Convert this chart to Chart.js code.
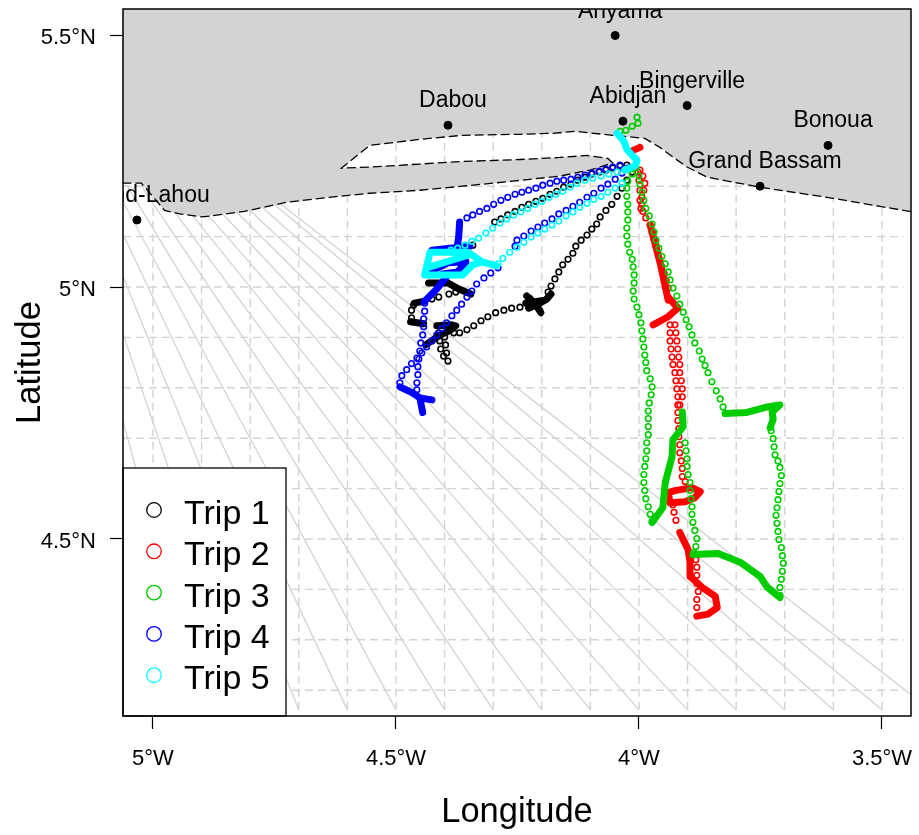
<!DOCTYPE html>
<html>
<head>
<meta charset="utf-8">
<title>Trips</title>
<script src="https://cdn.jsdelivr.net/npm/chart.js@4/dist/chart.umd.min.js"></script>
<style>
   body { margin: 0; background: #fff; }
   canvas { display: block; }
</style>
</head>
<body>
<canvas id="tripMap" width="919" height="835"></canvas>
<script>
const lonTicks = [-5, -4.5, -4, -3.5];
const lonTickLabels = ["5°W", "4.5°W", "4°W", "3.5°W"];
const latTicks = [4.5, 5, 5.5];
const latTickLabels = ["4.5°N", "5°N", "5.5°N"];

const tripNames = ["Trip 1", "Trip 2", "Trip 3", "Trip 4", "Trip 5"];
const tripColors = ["#000000", "#ff0000", "#00cd00", "#0000ff", "#00ffff"];

const townNames = ["Grand-Lahou", "Dabou", "Anyama", "Abidjan", "Bingerville", "Bonoua", "Grand Bassam"];
const townLon = [-5.033, -4.393, -4.049, -4.033, -3.901, -3.611, -3.751];
const townLat = [5.133, 5.321, 5.499, 5.329, 5.36, 5.281, 5.2];

// coast runs west to east, round the lagoon
const coastLon = [-5.063, -5.024, -4.976, -4.945, -4.898, -4.812, -4.725, -4.637, -4.554, -4.451, -4.363, -4.26, -4.163, -4.101, -4.054, -4.064, -4.107, -4.163, -4.245, -4.363, -4.451, -4.554, -4.612, -4.554, -4.451, -4.363, -4.245, -4.177, -4.132, -4.054, -3.988, -3.957, -3.926, -3.901, -3.86, -3.751, -3.6, -3.504, -3.438];
const coastLat = [5.206, 5.206, 5.152, 5.145, 5.139, 5.15, 5.168, 5.178, 5.186, 5.192, 5.2, 5.21, 5.22, 5.232, 5.246, 5.255, 5.261, 5.257, 5.253, 5.249, 5.244, 5.238, 5.236, 5.281, 5.293, 5.301, 5.303, 5.305, 5.309, 5.301, 5.295, 5.277, 5.255, 5.238, 5.218, 5.198, 5.176, 5.16, 5.149];

const gridLons = [-5, -4.9, -4.8, -4.7, -4.6, -4.5, -4.4, -4.3, -4.2, -4.1, -4, -3.9, -3.8, -3.7, -3.6, -3.5];
const gridLats = [4.2, 4.3, 4.4, 4.5, 4.6, 4.7, 4.8, 4.9, 5, 5.1, 5.2];

const fanTopLon = [-5.222, -5.194, -5.165, -5.138, -5.109, -5.08, -5.054, -5.025, -4.996, -4.969, -4.94, -4.912, -4.883, -4.856, -4.827, -4.798, -4.787];
const fanBottomLon = [-5, -4.9, -4.8, -4.7, -4.6, -4.5, -4.4, -4.3, -4.2, -4.1, -4, -3.9, -3.8, -3.7, -3.6, -3.5, -3.4];

const trip1Lon = [-4.014, -4.025, -4.035, -4.045, -4.056, -4.068, -4.08, -4.087, -4.097, -4.107, -4.119, -4.13, -4.136, -4.146, -4.157, -4.165, -4.173, -4.181, -4.187,
   -4.245, -4.262, -4.278, -4.295, -4.311, -4.325, -4.34, -4.354, -4.369, -4.381,
   -4.412, -4.41, -4.408, -4.402, -4.393, -4.396, -4.398, -4.4,
   -4.468, -4.468, -4.464, -4.426, -4.412, -4.391, -4.377, -4.342,
   -4.297, -4.284, -4.27, -4.255, -4.241, -4.227, -4.212, -4.198, -4.183, -4.169, -4.155, -4.14, -4.126, -4.111, -4.097, -4.082, -4.068, -4.054, -4.039, -4.025];
const trip1Lat = [5.228, 5.212, 5.196, 5.18, 5.164, 5.152, 5.139, 5.125, 5.115, 5.103, 5.093, 5.081, 5.067, 5.055, 5.044, 5.03, 5.016, 5.002, 4.99,
   4.96, 4.958, 4.954, 4.949, 4.941, 4.933, 4.923, 4.915, 4.909, 4.909,
   4.909, 4.893, 4.877, 4.863, 4.853, 4.869, 4.885, 4.901,
   4.939, 4.954, 4.964, 4.976, 4.98, 4.986, 4.99, 5.083,
   5.129, 5.135, 5.143, 5.15, 5.158, 5.164, 5.17, 5.176, 5.184, 5.19, 5.198, 5.204, 5.212, 5.218, 5.224, 5.228, 5.232, 5.236, 5.24, 5.242];
const trip1SlowLon = [-4.231, -4.212, -4.202, null, -4.227, -4.208, -4.19, -4.181, null, -4.233, -4.194, null, -4.225, -4.204, null,
   -4.439, -4.412, -4.387, -4.377, -4.387, -4.416, null, -4.47, -4.443, null, -4.462, -4.441, null, -4.433, -4.393, -4.371, -4.346];
const trip1SlowLat = [4.982, 4.964, 4.949, null, 4.958, 4.966, 4.976, 4.986, null, 4.968, 4.974, null, 4.978, 4.954, null,
   4.885, 4.903, 4.915, 4.923, 4.925, 4.923, null, 4.931, 4.927, null, 4.968, 4.972, null, 5.008, 5.008, 4.996, 4.986];

const trip2Lon = [-3.998, -3.992, -3.988, -3.99, -3.994, -3.994, -3.992, -3.986, -3.977, -3.973, -3.969, -3.965, -3.961, -3.957, -3.953, -3.948, -3.944, -3.94,
   -4.002, -4, -3.998, -3.998, -3.996,
   -3.936, -3.936, -3.936, -3.934, -3.932, -3.93, -3.926, -3.924, -3.922, -3.92, -3.92, -3.92, -3.92, -3.918, -3.918, -3.916, -3.916, -3.913, -3.911, -3.911, -3.905,
   -3.926, -3.924, -3.922, -3.92, -3.918, -3.916, -3.916, -3.913, -3.911, -3.911, -3.916,
   -3.93, -3.928, -3.924,
   -3.881, -3.881, -3.878, -3.881, -3.881, -3.881, -3.883];
const trip2Lat = [5.232, 5.22, 5.206, 5.192, 5.178, 5.164, 5.15, 5.137, 5.123, 5.109, 5.095, 5.081, 5.067, 5.053, 5.04, 5.026, 5.012, 4.998,
   5.228, 5.212, 5.192, 5.172, 5.156,
   4.925, 4.909, 4.893, 4.877, 4.861, 4.846, 4.83, 4.814, 4.798, 4.782, 4.766, 4.751, 4.735, 4.719, 4.703, 4.687, 4.671, 4.655, 4.64, 4.624, 4.614,
   4.925, 4.909, 4.893, 4.877, 4.861, 4.846, 4.83, 4.814, 4.798, 4.782, 4.766,
   4.568, 4.553, 4.537,
   4.364, 4.38, 4.396, 4.412, 4.428, 4.444, 4.459];
const trip2SlowLon = [-4.012, -3.998, null, -3.977, -3.957, -3.94, null, -3.971, -3.94, -3.92, -3.94, null,
   -3.926, -3.891, -3.874, -3.885, -3.905, -3.936, -3.94, -3.926, null,
   -3.916, -3.899, -3.895, -3.895, -3.87, -3.843, -3.839, -3.858, -3.881];
const trip2SlowLat = [5.271, 5.277, null, 5.123, 5.05, 4.974, null, 4.925, 4.941, 4.958, 4.98, null,
   4.596, 4.602, 4.594, 4.582, 4.574, 4.572, 4.592, 4.596, null,
   4.513, 4.479, 4.454, 4.426, 4.404, 4.386, 4.364, 4.351, 4.347];

const trip3Lon = [-4.004, -4.002, -4.014, -4.027, -4.039,
   -4.006, -4.014, -4.023, -4.025, -4.025, -4.023, -4.023, -4.023, -4.025, -4.025, -4.023, -4.019, -4.014, -4.012, -4.01, -4.01, -4.012, -4.01, -4.004, -4, -3.996, -3.994, -3.992, -3.99, -3.988, -3.986, -3.984, -3.977, -3.973, -3.975, -3.979, -3.981, -3.981, -3.981, -3.981, -3.984, -3.984, -3.986, -3.988, -3.99, -3.99, -3.988, -3.986, -3.981, -3.977, -3.973,
   -3.905, -3.903, -3.901, -3.901, -3.899, -3.895, -3.895, -3.893, -3.891, -3.891, -3.889, -3.885, -3.881, -3.883, -3.887,
   -3.71, -3.71, -3.707, -3.705, -3.703, -3.705, -3.707, -3.712, -3.714, -3.716, -3.718, -3.716, -3.714, -3.712, -3.71, -3.707, -3.71, -3.714, -3.72, -3.722, -3.724, -3.728,
   -3.827, -3.833, -3.841, -3.85, -3.858, -3.864, -3.87, -3.876, -3.885, -3.891, -3.897, -3.903, -3.909, -3.916, -3.922, -3.93, -3.936, -3.94, -3.946, -3.953, -3.959, -3.965, -3.969, -3.973, -3.979, -3.986, -3.99, -3.994, -3.998, -4];
const trip3Lat = [5.337, 5.325, 5.319, 5.311, 5.309,
   5.236, 5.224, 5.21, 5.196, 5.18, 5.164, 5.149, 5.133, 5.117, 5.101, 5.085, 5.069, 5.055, 5.04, 5.024, 5.008, 4.992, 4.976, 4.96, 4.945, 4.929, 4.913, 4.897, 4.881, 4.865, 4.85, 4.834, 4.818, 4.802, 4.786, 4.77, 4.754, 4.739, 4.723, 4.707, 4.691, 4.675, 4.659, 4.644, 4.628, 4.612, 4.596, 4.58, 4.564, 4.549, 4.535,
   4.691, 4.675, 4.659, 4.644, 4.628, 4.612, 4.596, 4.58, 4.564, 4.549, 4.533, 4.517, 4.501, 4.485, 4.473,
   4.388, 4.404, 4.42, 4.436, 4.452, 4.467, 4.483, 4.499, 4.515, 4.531, 4.547, 4.562, 4.578, 4.594, 4.61, 4.626, 4.642, 4.655, 4.667, 4.683, 4.699, 4.715,
   4.762, 4.778, 4.794, 4.812, 4.83, 4.844, 4.857, 4.873, 4.889, 4.905, 4.921, 4.935, 4.95, 4.966, 4.982, 4.998, 5.014, 5.03, 5.046, 5.061, 5.077, 5.093, 5.109, 5.125, 5.141, 5.156, 5.172, 5.188, 5.204, 5.22];
const trip3SlowLon = [-3.973, -3.951, -3.946, -3.932, -3.93, -3.909, -3.911, null,
   -3.889, -3.837, -3.792, -3.751, -3.736, -3.71, null,
   -3.823, -3.778, -3.736, -3.71, -3.726, -3.724, -3.73];
const trip3SlowLat = [4.533, 4.562, 4.612, 4.663, 4.697, 4.723, 4.752, null,
   4.469, 4.471, 4.454, 4.426, 4.404, 4.384, null,
   4.749, 4.751, 4.762, 4.766, 4.752, 4.737, 4.721];

const trip4Lon = [-4.354, -4.342, -4.328, -4.313, -4.299, -4.284, -4.27, -4.255, -4.241, -4.227, -4.212, -4.198, -4.183, -4.169, -4.155, -4.14, -4.126, -4.111, -4.097, -4.082, -4.068, -4.054, -4.039,
   -4.255, -4.251, -4.237, -4.222, -4.208, -4.194, -4.179, -4.165, -4.15, -4.136, -4.122, -4.107, -4.093, -4.078, -4.064, -4.049, -4.035, -4.023,
   -4.29, -4.305, -4.319, -4.334, -4.344, -4.354, -4.365, -4.375, -4.385, -4.396, -4.406, -4.416, -4.426, -4.437, -4.447, -4.457, -4.468, -4.478, -4.488, -4.492,
   -4.441, -4.441, -4.443, -4.443, -4.445, -4.449, -4.451, -4.453, -4.455, -4.455, -4.457, -4.457];
const trip4Lat = [5.137, 5.143, 5.15, 5.156, 5.164, 5.172, 5.178, 5.184, 5.188, 5.192, 5.196, 5.202, 5.206, 5.21, 5.212, 5.214, 5.218, 5.222, 5.226, 5.23, 5.234, 5.238, 5.242,
   5.081, 5.093, 5.101, 5.111, 5.119, 5.127, 5.135, 5.145, 5.152, 5.16, 5.168, 5.178, 5.186, 5.196, 5.204, 5.214, 5.226, 5.236,
   5.038, 5.028, 5.018, 5.006, 4.992, 4.98, 4.966, 4.954, 4.943, 4.929, 4.917, 4.905, 4.893, 4.881, 4.869, 4.859, 4.848, 4.836, 4.824, 4.81,
   4.968, 4.952, 4.937, 4.921, 4.905, 4.889, 4.873, 4.857, 4.842, 4.826, 4.81, 4.796];
const trip4SlowLon = [-4.369, -4.371, -4.375, null, -4.426, -4.393, -4.356, -4.373, -4.404, null, -4.426, -4.389, -4.348, null, -4.396, -4.418, -4.441, null,
   -4.492, -4.466, -4.451, -4.426, null, -4.451, -4.445];
const trip4SlowLat = [5.129, 5.099, 5.073, null, 5.032, 5.048, 5.05, 5.03, 5.026, null, 5.073, 5.077, 5.081, null, 5.02, 4.994, 4.972, null,
   4.802, 4.79, 4.78, 4.776, null, 4.78, 4.751];

const trip5Lon = [-4.029, -4.045, -4.062, -4.078, -4.095, -4.111, -4.128, -4.142, -4.157, -4.171, -4.185, -4.2, -4.214, -4.229, -4.243, -4.258, -4.272, -4.286, -4.301, -4.315, -4.33, -4.344, -4.358, -4.373, -4.387,
   -4.035, -4.049, -4.064, -4.078, -4.093, -4.107, -4.122, -4.136, -4.15, -4.165, -4.179, -4.194, -4.208, -4.222, -4.237, -4.251, -4.266, -4.28, -4.29];
const trip5Lat = [5.232, 5.228, 5.224, 5.22, 5.216, 5.212, 5.206, 5.198, 5.19, 5.184, 5.178, 5.17, 5.164, 5.156, 5.149, 5.143, 5.135, 5.127, 5.117, 5.107, 5.097, 5.091, 5.083, 5.077, 5.073,
   5.206, 5.196, 5.188, 5.18, 5.174, 5.166, 5.158, 5.149, 5.141, 5.131, 5.123, 5.115, 5.107, 5.099, 5.089, 5.079, 5.069, 5.057, 5.046];
const trip5SlowLon = [-4.045, -4.031, -4.025, -4.004, -4.008, -4.029, null,
   -4.293, -4.323, -4.342, -4.363, -4.441, -4.43, -4.352, -4.323, null, -4.437, -4.352];
const trip5SlowLat = [5.305, 5.289, 5.273, 5.251, 5.24, 5.232, null,
   5.042, 5.05, 5.044, 5.024, 5.024, 5.069, 5.069, 5.05, null, 5.038, 5.063];

const tripLons = [trip1Lon, trip2Lon, trip3Lon, trip4Lon, trip5Lon];
const tripLats = [trip1Lat, trip2Lat, trip3Lat, trip4Lat, trip5Lat];
const slowLons = [trip1SlowLon, trip2SlowLon, trip3SlowLon, trip4SlowLon, trip5SlowLon];
const slowLats = [trip1SlowLat, trip2SlowLat, trip3SlowLat, trip4SlowLat, trip5SlowLat];

const xMin = -5.0617, xMax = -3.4403, yMin = 4.1488, yMax = 5.5516;
const gridSouth = 4.161, gridEast = -3.455, fanNorth = 5.202;
const textFont = "Liberation Sans, Arial, sans-serif";

const pairs = (lon, lat) => lon.map((v, i) => ({x: v, y: lat[i]}));

const gridPoints = [];
gridLons.forEach((lon) => gridPoints.push({x: lon, y: gridSouth}, {x: lon, y: yMax}, {x: null, y: null}));
gridLats.forEach((lat) => gridPoints.push({x: xMin, y: lat}, {x: gridEast, y: lat}, {x: null, y: null}));

const fanPoints = [];
fanTopLon.forEach((lon, i) => fanPoints.push({x: lon, y: fanNorth}, {x: fanBottomLon[i], y: gridSouth}, {x: null, y: null}));

const landPoints = pairs(coastLon, coastLat).concat([{x: -3.43, y: 5.56}, {x: -5.07, y: 5.56}]);

const datasets = [
   {data: gridPoints, showLine: true, pointRadius: 0, borderColor: "#d3d3d3", borderWidth: 1.4, borderDash: [8, 5], order: 100},
   {data: fanPoints, showLine: true, pointRadius: 0, borderColor: "#d3d3d3", borderWidth: 1.3, order: 99},
   {data: landPoints, showLine: true, pointRadius: 0, borderWidth: 0, borderColor: "#d3d3d3", backgroundColor: "#d3d3d3", fill: "shape", order: 98},
   {data: pairs(coastLon, coastLat), showLine: true, pointRadius: 0, borderColor: "#000", borderWidth: 1.3, borderDash: [9, 4], order: 97},
   {data: pairs(townLon, townLat), showLine: false, pointRadius: 4, backgroundColor: "#000", borderColor: "#000", order: 96},
];

tripNames.forEach((name, i) => {
   datasets.push({
      label: name + " slow",
      data: pairs(slowLons[i], slowLats[i]),
      showLine: true,
      pointRadius: 0,
      borderColor: tripColors[i],
      borderWidth: 7,
      borderJoinStyle: "round",
      borderCapStyle: "round",
      order: 50 - i * 2,
   });
   datasets.push({
      label: name,
      data: pairs(tripLons[i], tripLats[i]),
      showLine: false,
      pointRadius: 2.8,
      pointBorderWidth: 1.6,
      pointBackgroundColor: "transparent",
      pointBorderColor: tripColors[i],
      order: 49 - i * 2,
   });
});

const mapDecor = {
   id: "mapDecor",
   afterDraw(chart) {
      const {ctx, chartArea: area, scales} = chart;
      ctx.save();
      ctx.beginPath();
      ctx.rect(area.left, area.top, area.width, area.height);
      ctx.clip();
      ctx.fillStyle = "#000";
      ctx.font = "23px " + textFont;
      ctx.textAlign = "center";
      ctx.textBaseline = "alphabetic";
      townNames.forEach((name, i) => {
         ctx.fillText(name, scales.x.getPixelForValue(townLon[i]) + 5, scales.y.getPixelForValue(townLat[i]) - 18);
      });
      ctx.restore();

      // legend box sits in the bottom left corner
      ctx.save();
      ctx.fillStyle = "#fff";
      ctx.fillRect(area.left, 468, 163, area.bottom - 468);
      ctx.strokeStyle = "#000";
      ctx.lineWidth = 1.3;
      ctx.strokeRect(area.left, 468, 163, area.bottom - 468);
      ctx.font = "34px " + textFont;
      ctx.textAlign = "left";
      ctx.textBaseline = "alphabetic";
      tripNames.forEach((name, i) => {
         ctx.beginPath();
         ctx.arc(154, 510 + i * 41.3, 7.3, 0, Math.PI * 2);
         ctx.strokeStyle = tripColors[i];
         ctx.lineWidth = 1.3;
         ctx.stroke();
         ctx.fillStyle = "#000";
         ctx.fillText(name, 184, 524 + i * 41.3);
      });
      ctx.strokeStyle = "#000";
      ctx.lineWidth = 1.5;
      ctx.strokeRect(area.left, area.top, area.width, area.height);
      ctx.restore();
   },
};

const noEdgePadding = (scale) => {
   scale.paddingLeft = 0;
   scale.paddingRight = 0;
   scale.paddingTop = 0;
   scale.paddingBottom = 0;
};

new Chart(document.getElementById("tripMap"), {
   type: "scatter",
   data: {datasets},
   plugins: [mapDecor],
   options: {
      responsive: false,
      animation: false,
      layout: {autoPadding: false, padding: {top: 9, right: 8, left: 0, bottom: 0}},
      plugins: {legend: {display: false}, tooltip: {enabled: false}},
      scales: {
         x: {
            min: xMin,
            max: xMax,
            afterFit(scale) { scale.height = 119; noEdgePadding(scale); },
            afterBuildTicks(scale) { scale.ticks = lonTicks.map((value) => ({value})); },
            grid: {drawOnChartArea: false, tickLength: 13, tickColor: "#000", tickWidth: 1.2},
            border: {display: false},
            ticks: {
               color: "#000",
               font: {family: textFont, size: 22},
               padding: 17,
               maxRotation: 0,
               autoSkip: false,
               callback: (value) => lonTickLabels[lonTicks.indexOf(value)],
            },
            title: {display: true, text: "Longitude", color: "#000", font: {family: textFont, size: 34.5}, padding: {top: 0, bottom: 2}},
         },
         y: {
            min: yMin,
            max: yMax,
            afterFit(scale) { scale.width = 123; noEdgePadding(scale); },
            afterBuildTicks(scale) { scale.ticks = latTicks.map((value) => ({value})); },
            grid: {drawOnChartArea: false, tickLength: 13, tickColor: "#000", tickWidth: 1.2},
            border: {display: false},
            ticks: {
               color: "#000",
               font: {family: textFont, size: 22},
               padding: 14,
               labelOffset: 2.5,
               autoSkip: false,
               callback: (value) => latTickLabels[latTicks.indexOf(value)],
            },
            title: {display: true, text: "Latitude", color: "#000", font: {family: textFont, size: 34.5}, padding: {top: 10, bottom: 0}},
         },
      },
   },
});
</script>
</body>
</html>
